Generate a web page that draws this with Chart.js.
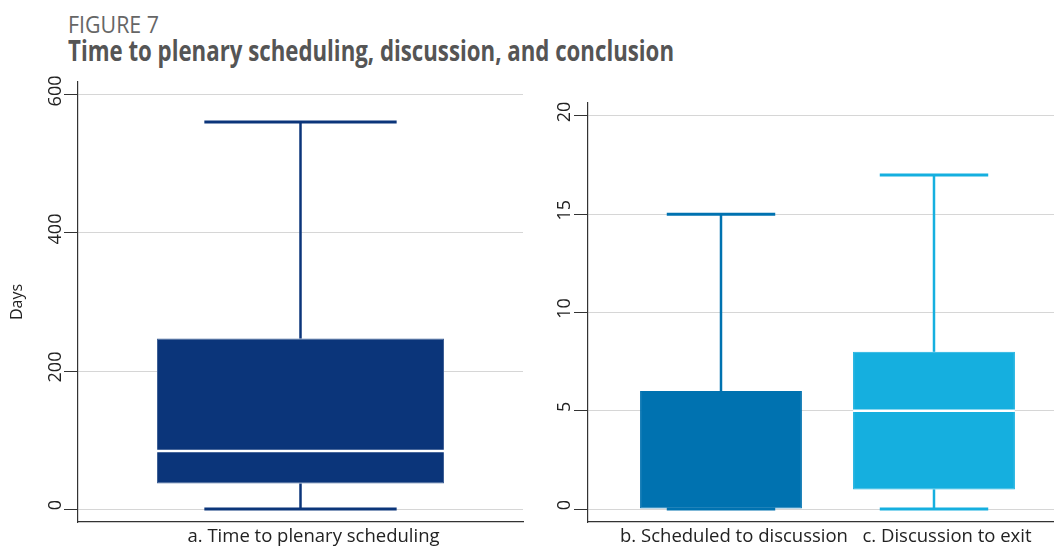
<!DOCTYPE html>
<html>
<head>
<meta charset="utf-8">
<script src="https://cdn.jsdelivr.net/npm/chart.js@4.4.1/dist/chart.umd.min.js"></script>
<style>
  body { margin:0; width:1054px; height:548px; background:#fff; position:relative; overflow:hidden; font-family:'Open Sans', sans-serif; }
  .hdr { position:absolute; left:68px; white-space:nowrap; line-height:1; transform-origin:0 0; display:inline-block; }
  #fig { top:12px; font-size:24px; color:#666; }
  #ttl { top:36px; font-size:28px; font-weight:700; color:#555; }
  .wrap { position:absolute; top:70px; height:478px; }
  #wrapA { left:0; width:530px; }
  #wrapB { left:530px; width:524px; }
</style>
</head>
<body>
<span class="hdr" id="fig">FIGURE 7</span>
<span class="hdr" id="ttl">Time to plenary scheduling, discussion, and conclusion</span>
<div class="wrap" id="wrapA"><canvas id="chartA" width="530" height="478"></canvas></div>
<div class="wrap" id="wrapB"><canvas id="chartB" width="524" height="478"></canvas></div>
<script>
// panel a
const catsA = ['a. Time to plenary scheduling'];
const minA = [0];
const q1A = [37];
const medA = [84];
const q3A = [247];
const maxA = [561];
const ticksA = [0, 200, 400, 600];

// panels b and c
const catsB = ['b. Scheduled to discussion', 'c. Discussion to exit'];
const minB = [0, 0];
const q1B = [0, 1];
const medB = [0, 5];
const q3B = [6, 8];
const maxB = [15, 17];
const ticksB = [0, 5, 10, 15, 20];

const colorsA = ['#0b357a'];
const colorsB = ['#0072b0', '#15afdf'];

function fitWidth(id, target) {
  const el = document.getElementById(id);
  const w = el.getBoundingClientRect().width;
  el.style.transform = 'scaleX(' + (target / w) + ')';
}

function boxChart(id, cats, mins, q1s, meds, q3s, maxs, colors, yTicks, o) {
  const seg = (ctx, x1, y1, x2, y2, w, c) => {
    ctx.save();
    ctx.strokeStyle = c; ctx.lineWidth = w;
    ctx.beginPath(); ctx.moveTo(x1, y1); ctx.lineTo(x2, y2); ctx.stroke();
    ctx.restore();
  };
  // whiskers + caps under the boxes, median line over them
  const whiskers = {
    id: 'whiskers',
    beforeDatasetsDraw(chart) {
      const ctx = chart.ctx, y = chart.scales.y;
      const py = v => y.getPixelForValue(v);
      chart.getDatasetMeta(0).data.forEach((bar, i) => {
        const x = bar.x, cap = bar.width * 0.335;
        seg(ctx, x, py(q3s[i]), x, py(maxs[i]), 2.5, colors[i]);
        seg(ctx, x, py(q1s[i]), x, py(mins[i]), 2.5, colors[i]);
        seg(ctx, x - cap, py(maxs[i]), x + cap, py(maxs[i]), 3, colors[i]);
        seg(ctx, x - cap, py(mins[i]), x + cap, py(mins[i]), 3, colors[i]);
      });
    },
    afterDatasetsDraw(chart) {
      const ctx = chart.ctx, y = chart.scales.y;
      chart.getDatasetMeta(0).data.forEach((bar, i) => {
        if (meds[i] <= q1s[i]) return;
        const half = bar.width / 2, my = y.getPixelForValue(meds[i]);
        seg(ctx, bar.x - half, my, bar.x + half, my, 2.5, '#fff');
      });
    }
  };

  return new Chart(document.getElementById(id), {
    type: 'bar',
    data: {
      datasets: [{
        data: cats.map((c, i) => ({ x: i + 1, y: [q1s[i], q3s[i]] })),
        backgroundColor: colors,
        borderColor: o.edge,
        borderWidth: 1,
        borderSkipped: false,
        barPercentage: o.barPct,
        categoryPercentage: 1
      }]
    },
    options: {
      responsive: false,
      animation: false,
      layout: { padding: o.pad },
      plugins: { legend: { display: false }, tooltip: { enabled: false } },
      scales: {
        x: {
          type: 'linear', bounds: 'data', offset: false, min: o.xMin, max: o.xMax,
          grid: { display: false, drawTicks: false },
          border: { color: '#333', width: 1.2 },
          afterBuildTicks: s => { s.ticks = cats.map((c, i) => ({ value: i + 1 })); },
          afterFit: s => { s.height = 26; s.paddingLeft = 0; s.paddingRight = 0; },
          ticks: {
            callback: v => cats[v - 1],
            autoSkip: false, maxRotation: 0, minRotation: 0,
            labelOffset: 13, padding: 4,
            font: { family: 'Open Sans', size: 18.5 }, color: '#222'
          }
        },
        y: {
          bounds: 'data', min: o.yMin, max: o.yMax,
          afterBuildTicks: s => { s.ticks = yTicks.map(v => ({ value: v })); },
          afterFit: s => { s.width = o.yWidth; s.paddingTop = 0; s.paddingBottom = 0; },
          grid: { color: '#d6d6d6', tickColor: '#333', tickLength: 14 },
          border: { color: '#333', width: 1.2 },
          ticks: {
            minRotation: 90, maxRotation: 90, crossAlign: 'center',
            padding: o.tickPad, labelOffset: -4,
            font: { family: 'Open Sans', size: 18 }, color: '#222'
          },
          title: o.yTitle
            ? { display: true, text: o.yTitle, font: { family: 'Open Sans', size: 16 }, color: '#222', padding: { top: 8, bottom: 0 } }
            : { display: false }
        }
      }
    },
    plugins: [whiskers]
  });
}

function draw() {
  fitWidth('fig', 91);
  fitWidth('ttl', 606);

  boxChart('chartA', catsA, minA, q1A, medA, q3A, maxA, colorsA, ticksA, {
    edge: '#3f6196', barPct: 0.645, xMin: 0.5, xMax: 1.5,
    yMin: -18.8, yMax: 618.8, yWidth: 78, tickPad: -7, yTitle: 'Days',
    pad: { top: 12, right: 7, left: 0, bottom: 0 }
  });

  boxChart('chartB', catsB, minB, q1B, medB, q3B, maxB, colorsB, ticksB, {
    edge: colorsB, barPct: 0.76, xMin: 0.3756, xMax: 2.5634,
    yMin: -0.66, yMax: 20.66, yWidth: 58, tickPad: -1, yTitle: null,
    pad: { top: 33, right: 0, left: 0, bottom: 0 }
  });
}

Promise.all([
  document.fonts.load('17px "Open Sans"'),
  document.fonts.load('bold 28px "Open Sans"')
]).then(draw, draw);
</script>
</body>
</html>
